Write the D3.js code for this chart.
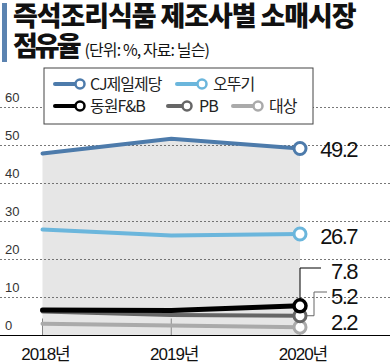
<!DOCTYPE html>
<html>
<head>
<meta charset="utf-8">
<script src="https://cdn.jsdelivr.net/npm/d3@7"></script>
<style>
  body { margin: 0; background: #fff; }
  svg { display: block; }
  .kr { font-family: "Noto Sans CJK KR", "Noto Sans", sans-serif; }
  .num { font-family: "Liberation Sans", Arial, "Noto Sans CJK KR", sans-serif; }
</style>
</head>
<body>
<svg id="chart"></svg>
<script>
// ---- data ----
const years = ['2018년', '2019년', '2020년'];
const cj      = [47.9, 51.8, 49.2];
const ottogi  = [27.9, 26.3, 26.7];
const dongwon = [6.7, 6.6, 7.8];
const pb      = [6.3, 5.4, 5.2];
const daesang = [3.1, 2.6, 2.2];
const yTicks  = [0, 10, 20, 30, 40, 50, 60];

const series = [
    { name: '대상',      values: daesang, color: '#aaaaaa', width: 4 },
    { name: 'PB',        values: pb,      color: '#666666', width: 4 },
    { name: '동원F&B',   values: dongwon, color: '#000000', width: 5 },
    { name: '오뚜기',    values: ottogi,  color: '#6bb6dc', width: 4 },
    { name: 'CJ제일제당', values: cj,      color: '#4d7bab', width: 4 },
];

const W = 390, H = 363;
const svg = d3.select('#chart').attr('width', W).attr('height', H);

const x = d3.scalePoint().domain(years).range([42.5, 300]);
const y = d3.scaleLinear().domain([0, 60]).range([335.5, 107.5]);

// Title
svg.append('rect').attr('x', 2).attr('y', 3).attr('width', 5).attr('height', 59).attr('fill', '#5b83b0');
svg.append('text').attr('class', 'kr')
    .attr('x', 13).attr('y', 26)
    .attr('font-size', 27).attr('font-weight', 900).attr('letter-spacing', -1.1)
    .attr('fill', '#111')
    .text('즉석조리식품 제조사별 소매시장');
const t2 = svg.append('text').attr('class', 'kr').attr('x', 13).attr('y', 56).attr('fill', '#111');
t2.append('tspan').attr('font-size', 27).attr('font-weight', 900).attr('letter-spacing', -3).text('점유율');
t2.append('tspan').attr('font-size', 16).attr('font-weight', 400).attr('letter-spacing', -0.9).attr('dx', 6).text('(단위: %, 자료: 닐슨)');

// Area under CJ
svg.append('path')
    .datum(cj)
    .attr('fill', '#e6e6e6')
    .attr('d', d3.area().x((d, i) => x(years[i])).y0(y(0)).y1(d => y(d)));

// Grid lines
svg.append('g')
    .selectAll('line')
    .data(yTicks.filter(d => d > 0))
    .join('line')
    .attr('x1', 0).attr('x2', W)
    .attr('y1', d => y(d)).attr('y2', d => y(d))
    .attr('stroke', '#555').attr('stroke-width', 0.8).attr('stroke-dasharray', '2 2');

// Y labels
svg.append('g')
    .selectAll('text')
    .data(yTicks)
    .join('text')
    .attr('class', 'num')
    .attr('x', 5).attr('y', d => y(d) - 6)
    .attr('font-size', 13).attr('fill', '#333')
    .text(d => d);

// X axis ticks (upward) + baseline
svg.append('g')
    .selectAll('line')
    .data(years)
    .join('line')
    .attr('x1', d => x(d)).attr('x2', d => x(d))
    .attr('y1', y(0) - 17).attr('y2', y(0))
    .attr('stroke', '#888').attr('stroke-width', 1);

svg.append('line')
    .attr('x1', 0).attr('x2', W).attr('y1', y(0)).attr('y2', y(0))
    .attr('stroke', '#000').attr('stroke-width', 1);

svg.append('g')
    .selectAll('text')
    .data(years)
    .join('text')
    .attr('class', 'num')
    .attr('x', d => x(d) + 3).attr('y', 360)
    .attr('text-anchor', 'middle')
    .attr('font-size', 17).attr('letter-spacing', -1).attr('fill', '#111')
    .text(d => d);

// Lines
const line = d3.line().x((d, i) => x(years[i])).y(d => y(d));
svg.append('g')
    .selectAll('path')
    .data(series)
    .join('path')
    .attr('fill', 'none')
    .attr('stroke', d => d.color)
    .attr('stroke-width', d => d.width)
    .attr('stroke-linecap', 'round')
    .attr('d', d => line(d.values));

// Leader lines for small values
const last = years[years.length - 1];
svg.append('path')
    .attr('d', `M${x(last)},${y(dongwon[2]) - 6}V268H321`)
    .attr('fill', 'none').attr('stroke', '#000').attr('stroke-width', 1);
svg.append('path')
    .attr('d', `M${x(last) + 6},${y(pb[2])}H314V292H327`)
    .attr('fill', 'none').attr('stroke', '#666').attr('stroke-width', 1);

// End circles
svg.append('g')
    .selectAll('circle')
    .data(series)
    .join('circle')
    .attr('cx', x(last))
    .attr('cy', d => y(d.values[2]))
    .attr('r', 6)
    .attr('fill', '#fff')
    .attr('stroke', d => d.color)
    .attr('stroke-width', d => d.width === 5 ? 3.5 : 3);

// End value labels
const labelY = { 'CJ제일제당': 149, '오뚜기': 236, '동원F&B': 271, 'PB': 296, '대상': 322 };
svg.append('g')
    .selectAll('text')
    .data(series)
    .join('text')
    .attr('class', 'num')
    .attr('x', 357).attr('y', d => labelY[d.name])
    .attr('dy', '0.35em')
    .attr('text-anchor', 'end')
    .attr('font-size', 22).attr('letter-spacing', -1.5).attr('fill', '#111')
    .text(d => d.values[2].toFixed(1));

// Legend
const legend = svg.append('g');
legend.append('rect')
    .attr('x', 44).attr('y', 68).attr('width', 269).attr('height', 56)
    .attr('fill', '#fff').attr('stroke', '#444').attr('stroke-width', 1);

const legendItems = [
    { s: series[4], lx: 55,  cx: 80,  tx: 90,  ty: 84 },
    { s: series[3], lx: 177, cx: 202, tx: 213, ty: 84 },
    { s: series[2], lx: 55,  cx: 80,  tx: 90,  ty: 106 },
    { s: series[1], lx: 168, cx: 187, tx: 199, ty: 106 },
    { s: series[0], lx: 233, cx: 258, tx: 269, ty: 106 },
];
const li = legend.selectAll('g.item').data(legendItems).join('g').attr('class', 'item');
li.append('line')
    .attr('x1', d => d.lx).attr('x2', d => d.cx)
    .attr('y1', d => d.ty).attr('y2', d => d.ty)
    .attr('stroke', d => d.s.color).attr('stroke-width', 4).attr('stroke-linecap', 'round');
li.append('circle')
    .attr('cx', d => d.cx).attr('cy', d => d.ty).attr('r', 4.5)
    .attr('fill', '#fff').attr('stroke', d => d.s.color).attr('stroke-width', 2.5);
li.append('text')
    .attr('class', 'kr')
    .attr('x', d => d.tx).attr('y', d => d.ty).attr('dy', '0.35em')
    .attr('font-size', 16).attr('letter-spacing', -1).attr('fill', '#222')
    .text(d => d.s.name);
</script>
</body>
</html>
